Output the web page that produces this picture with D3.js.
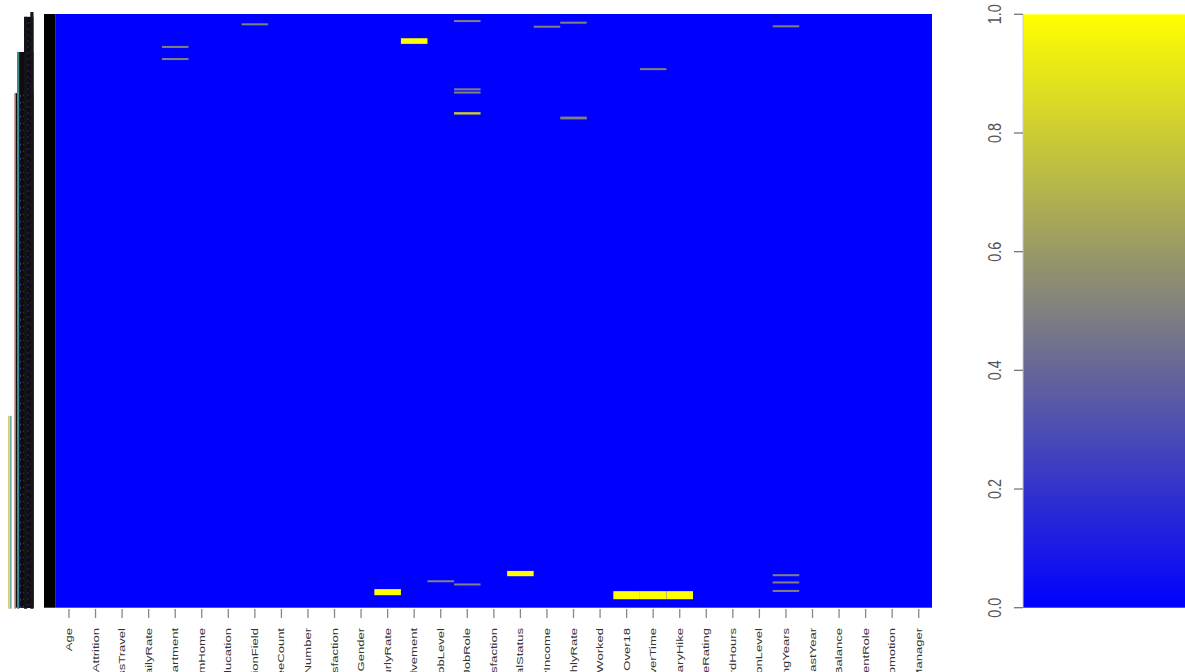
<!DOCTYPE html>
<html>
<head>
<meta charset="utf-8">
<script src="https://cdn.jsdelivr.net/npm/d3@7"></script>
<style>
  body { margin: 0; background: #fff; }
  svg { display: block; }
</style>
</head>
<body>
<svg id="chart" width="1185" height="672"></svg>
<script>
// Variables of the HR data set, one heatmap column each
const columns = [
  "Age", "Attrition", "BusinessTravel", "DailyRate", "Department",
  "DistanceFromHome", "Education", "EducationField", "EmployeeCount",
  "EmployeeNumber", "EnvironmentSatisfaction", "Gender", "HourlyRate",
  "JobInvolvement", "JobLevel", "JobRole", "JobSatisfaction", "MaritalStatus",
  "MonthlyIncome", "MonthlyRate", "NumCompaniesWorked", "Over18", "OverTime",
  "PercentSalaryHike", "PerformanceRating", "StandardHours", "StockOptionLevel",
  "TotalWorkingYears", "TrainingTimesLastYear", "WorkLifeBalance",
  "YearsInCurrentRole", "YearsSinceLastPromotion", "YearsWithCurrManager"
];

// Number of records (rows of the heatmap)
const nRows = 1470;

// Cells that differ from 0 (column, first row, last row, value)
const cells = [
  { col: "Department",        r0: 79,   r1: 84,   v: 0.5 },
  { col: "Department",        r0: 109,  r1: 114,  v: 0.5 },
  { col: "EducationField",    r0: 23,   r1: 28,   v: 0.5 },
  { col: "JobInvolvement",    r0: 60,   r1: 74,   v: 1.0 },
  { col: "JobRole",           r0: 15,   r1: 20,   v: 0.5 },
  { col: "JobRole",           r0: 184,  r1: 189,  v: 0.5 },
  { col: "JobRole",           r0: 192,  r1: 197,  v: 0.5 },
  { col: "JobRole",           r0: 243,  r1: 249,  v: 0.78 },
  { col: "JobRole",           r0: 1410, r1: 1415, v: 0.5 },
  { col: "MonthlyIncome",     r0: 29,   r1: 34,   v: 0.5 },
  { col: "MonthlyRate",       r0: 19,   r1: 24,   v: 0.5 },
  { col: "MonthlyRate",       r0: 254,  r1: 261,  v: 0.5 },
  { col: "OverTime",          r0: 134,  r1: 139,  v: 0.5 },
  { col: "TotalWorkingYears", r0: 28,   r1: 33,   v: 0.5 },
  { col: "TotalWorkingYears", r0: 1387, r1: 1392, v: 0.5 },
  { col: "TotalWorkingYears", r0: 1405, r1: 1410, v: 0.5 },
  { col: "TotalWorkingYears", r0: 1426, r1: 1431, v: 0.5 },
  { col: "HourlyRate",        r0: 1424, r1: 1439, v: 1.0 },
  { col: "JobLevel",          r0: 1402, r1: 1407, v: 0.5 },
  { col: "MaritalStatus",     r0: 1379, r1: 1392, v: 1.0 },
  { col: "Over18",            r0: 1429, r1: 1449, v: 1.0 },
  { col: "OverTime",          r0: 1429, r1: 1449, v: 1.0 },
  { col: "PercentSalaryHike", r0: 1429, r1: 1449, v: 1.0 }
];

// Row dendrogram branches: merge height and first row they cover
const dendroBranches = [
  { h: 0.17, top: -5,  color: "#161616", width: 3.2 },
  { h: 0.38, top: 7,   color: "#141414", width: 3.2 },
  { h: 0.63, top: 94,  color: "#3f8d8a", width: 2.2 },
  { h: 0.73, top: 196, color: "#c47a7a", width: 1.6 },
  { h: 0.88, top: 995, color: "#6fb3ad", width: 2.2 }
];

// Colour key ticks
const keyTicks = [0, 0.2, 0.4, 0.6, 0.8, 1.0];

const svg = d3.select("#chart");
const defs = svg.append("defs");
defs.append("filter").attr("id", "soft")
  .attr("x", "-5%").attr("y", "-50%").attr("width", "110%").attr("height", "200%")
  .append("feGaussianBlur").attr("stdDeviation", 0.5);

const x = d3.scaleBand().domain(columns).range([55.7, 932]).padding(0);
const y = d3.scaleLinear().domain([0, nRows]).range([14, 607.7]);
const color = d3.scaleLinear()
  .domain([0, 0.5, 1])
  .range(["#0000ff", "#808080", "#ffff00"])
  .interpolate(d3.interpolateRgb);
const dx = d3.scaleLinear().domain([0, 1]).range([37, 7]);

// ---- row dendrogram ----
const dendro = svg.append("g");
// dense leaf mass under the lower branches
dendro.selectAll("rect.mass")
  .data(dendroBranches.slice(1, 4))
  .join("rect")
  .attr("class", "mass")
  .attr("x", d => dx(d.h))
  .attr("y", d => y(d.top))
  .attr("width", d => dx(0.12) - dx(d.h))
  .attr("height", d => y(nRows) - y(d.top))
  .attr("fill", "#0d0d12")
  .attr("fill-opacity", 1);
// speckled texture inside the leaf mass
const speckle = [
  { h: 0.22, from: 20,  color: "#8a1f2a", dash: "2,5" },
  { h: 0.30, from: 20,  color: "#2a2a9a", dash: "2,4" },
  { h: 0.45, from: 200, color: "#8a1f2a", dash: "1,6" },
  { h: 0.55, from: 200, color: "#2a3aa0", dash: "2,5" }
];
dendro.selectAll("line.speck")
  .data(speckle)
  .join("line")
  .attr("class", "speck")
  .attr("x1", d => dx(d.h)).attr("x2", d => dx(d.h))
  .attr("y1", d => y(d.from)).attr("y2", y(nRows))
  .attr("stroke", d => d.color)
  .attr("stroke-width", 1)
  .attr("stroke-dasharray", d => d.dash);
dendro.selectAll("line.branch")
  .data(dendroBranches)
  .join("line")
  .attr("class", "branch")
  .attr("x1", d => dx(d.h)).attr("x2", d => dx(d.h))
  .attr("y1", d => y(d.top)).attr("y2", y(nRows) + 1)
  .attr("stroke", d => d.color)
  .attr("stroke-width", d => d.width);
// yellow rim of the outermost branch
dendro.append("line")
  .attr("x1", dx(0.88) - 2).attr("x2", dx(0.88) - 2)
  .attr("y1", y(995)).attr("y2", y(nRows) + 1)
  .attr("stroke", "#d8c86a").attr("stroke-width", 1);

// ---- row side bar ----
svg.append("rect")
  .attr("x", 44).attr("y", y(0))
  .attr("width", 11.7).attr("height", y(nRows) - y(0))
  .attr("fill", "#000");

// ---- heatmap ----
const heat = svg.append("g");
// background: every cell not listed above has value 0
heat.append("rect")
  .attr("x", x.range()[0])
  .attr("y", y(0))
  .attr("width", x.range()[1] - x.range()[0])
  .attr("height", y(nRows) - y(0))
  .attr("fill", color(0));
heat.append("g")
  .attr("filter", "url(#soft)")
  .selectAll("rect.cell")
  .data(cells)
  .join("rect")
  .attr("class", "cell")
  .attr("x", d => x(d.col))
  .attr("y", d => y(d.r0))
  .attr("width", x.bandwidth())
  .attr("height", d => y(d.r1) - y(d.r0))
  .attr("fill", d => color(d.v));

// ---- column axis ----
const xAxis = svg.append("g");
xAxis.selectAll("line")
  .data(columns)
  .join("line")
  .attr("x1", d => x(d) + x.bandwidth() / 2)
  .attr("x2", d => x(d) + x.bandwidth() / 2)
  .attr("y1", 609).attr("y2", 618)
  .attr("stroke", "#888").attr("stroke-width", 1.3);
xAxis.selectAll("text")
  .data(columns)
  .join("text")
  .attr("transform", d => `translate(${x(d) + x.bandwidth() / 2 + 3},628) rotate(-90) scale(1.45,1)`)
  .attr("text-anchor", "end")
  .attr("font-family", "Liberation Sans, Arial, sans-serif")
  .attr("font-size", 9)
  .attr("fill", "#333")
  .text(d => d);

// ---- colour key ----
const ky = d3.scaleLinear().domain([0, 1]).range([607.7, 14.3]);
const grad = defs.append("linearGradient")
  .attr("id", "keyGrad")
  .attr("x1", 0).attr("y1", 1).attr("x2", 0).attr("y2", 0);
grad.selectAll("stop")
  .data(d3.range(0, 1.0001, 0.05))
  .join("stop")
  .attr("offset", d => d)
  .attr("stop-color", d => color(d));
svg.append("rect")
  .attr("x", 1023).attr("y", ky(1))
  .attr("width", 170).attr("height", ky(0) - ky(1))
  .attr("fill", "url(#keyGrad)");
svg.append("line")
  .attr("x1", 1023).attr("x2", 1023)
  .attr("y1", ky(0)).attr("y2", ky(1))
  .attr("stroke", "#c8c8d8").attr("stroke-width", 1);
const key = svg.append("g");
key.selectAll("line")
  .data(keyTicks)
  .join("line")
  .attr("x1", 1014).attr("x2", 1023)
  .attr("y1", d => ky(d)).attr("y2", d => ky(d))
  .attr("stroke", "#777").attr("stroke-width", 1.3);
key.selectAll("text")
  .data(keyTicks)
  .join("text")
  .attr("transform", d => `translate(1001,${ky(d)}) rotate(-90) scale(0.8,1)`)
  .attr("text-anchor", "middle")
  .attr("font-family", "Liberation Sans, Arial, sans-serif")
  .attr("font-size", 18)
  .attr("fill", "#555")
  .text(d => d.toFixed(1));
</script>
</body>
</html>
